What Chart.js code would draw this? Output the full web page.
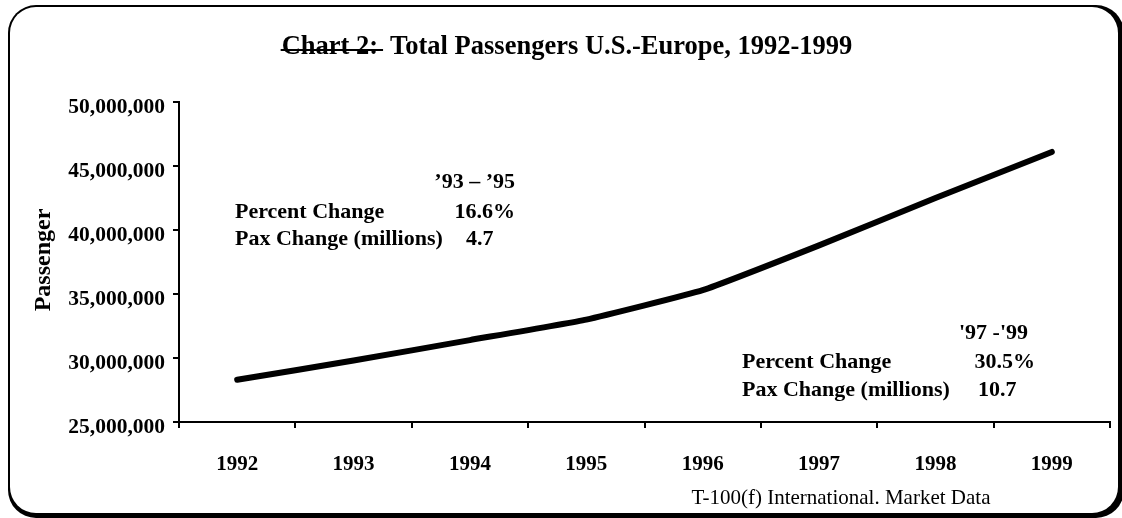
<!DOCTYPE html>
<html lang="en">
<head>
    <meta charset="UTF-8">
    <title>Total Passengers U.S.-Europe</title>
    <script src="https://cdn.jsdelivr.net/npm/chart.js"></script>
    <style>
        body { margin: 0; background: #fff; }
        #wrap { width: 1122px; height: 518px; }
    </style>
</head>
<body>
    <div id="wrap"><canvas id="paxChart" width="1122" height="518"></canvas></div>

    <script>
        // Data
        const years = ['1992', '1993', '1994', '1995', '1996', '1997', '1998', '1999'];
        const passengers = [28300000, 29800000, 31400000, 33000000, 35300000, 38800000, 42500000, 46100000];
        const yTicks = [25000000, 30000000, 35000000, 40000000, 45000000, 50000000];

        const titlePrefix = 'Chart 2:';
        const titleText = 'Total Passengers U.S.-Europe, 1992-1999';
        const yTitle = 'Passenger';
        const sourceText = 'T-100(f) International. Market Data';
        const note1 = ['\u201993 \u2013 \u201995', 'Percent Change', '16.6%', 'Pax Change (millions)', '4.7'];
        const note2 = ["'97 -'99", 'Percent Change', '30.5%', 'Pax Change (millions)', '10.7'];

        const serif = '"Liberation Serif", "Times New Roman", serif';

        function roundRect(ctx, x, y, w, h, r) {
            ctx.beginPath();
            ctx.moveTo(x + r, y);
            ctx.lineTo(x + w - r, y);
            ctx.arcTo(x + w, y, x + w, y + r, r);
            ctx.lineTo(x + w, y + h - r);
            ctx.arcTo(x + w, y + h, x + w - r, y + h, r);
            ctx.lineTo(x + r, y + h);
            ctx.arcTo(x, y + h, x, y + h - r, r);
            ctx.lineTo(x, y + r);
            ctx.arcTo(x, y, x + r, y, r);
            ctx.closePath();
        }

        // frame, title, y title, notes and source line
        const decor = {
            id: 'decor',
            beforeDraw(chart) {
                const ctx = chart.ctx;
                ctx.save();
                ctx.fillStyle = '#000';
                roundRect(ctx, 8, 5, 1116, 513, 28);
                ctx.fill();
                ctx.fillStyle = '#fff';
                roundRect(ctx, 10, 7, 1108, 506, 26);
                ctx.fill();
                ctx.restore();
            },
            afterDraw(chart) {
                const ctx = chart.ctx;
                ctx.save();
                ctx.fillStyle = '#000';
                ctx.textBaseline = 'middle';

                // title
                ctx.font = 'bold 26.5px ' + serif;
                const w1 = ctx.measureText(titlePrefix).width;
                const gap = 12;
                const w2 = ctx.measureText(titleText).width;
                let x0 = 567 - (w1 + gap + w2) / 2;
                ctx.textAlign = 'left';
                ctx.fillText(titlePrefix, x0, 47);
                ctx.fillText(titleText, x0 + w1 + gap, 47);
                ctx.fillRect(x0 - 1, 49, w1 + 6, 2);

                // y axis title
                ctx.save();
                ctx.translate(44, 260);
                ctx.rotate(-Math.PI / 2);
                ctx.textAlign = 'center';
                ctx.font = 'bold 24px ' + serif;
                ctx.fillText(yTitle, 0, 0);
                ctx.restore();

                // notes
                ctx.font = 'bold 22px ' + serif;
                ctx.textAlign = 'right';
                ctx.fillText(note1[0], 515, 182);
                ctx.fillText(note1[2], 515, 212);
                ctx.textAlign = 'left';
                ctx.fillText(note1[1], 235, 212);
                ctx.fillText(note1[3], 235, 239);
                ctx.fillText(note1[4], 466, 239);

                ctx.textAlign = 'right';
                ctx.fillText(note2[0], 1028, 333);
                ctx.fillText(note2[2], 1035, 362);
                ctx.textAlign = 'left';
                ctx.fillText(note2[1], 742, 362);
                ctx.fillText(note2[3], 742, 390);
                ctx.fillText(note2[4], 978, 390);

                // source
                ctx.font = '21px ' + serif;
                ctx.textAlign = 'center';
                ctx.fillText(sourceText, 841, 498);
                ctx.restore();
            }
        };

        const ctx = document.getElementById('paxChart').getContext('2d');
        new Chart(ctx, {
            type: 'line',
            data: {
                labels: years,
                datasets: [{
                    label: 'Passengers',
                    data: passengers,
                    borderColor: '#000',
                    borderWidth: 6,
                    borderCapStyle: 'round',
                    borderJoinStyle: 'round',
                    pointRadius: 0,
                    tension: 0.12,
                    fill: false
                }]
            },
            options: {
                responsive: false,
                animation: false,
                layout: { padding: { left: 0, top: 102, right: 12, bottom: 0 } },
                plugins: {
                    legend: { display: false },
                    tooltip: { enabled: false }
                },
                scales: {
                    x: {
                        offset: true,
                        afterFit(scale) { scale.height = 96; },
                        grid: {
                            offset: true,
                            drawOnChartArea: false,
                            drawTicks: true,
                            tickLength: 6,
                            color: '#000',
                            lineWidth: 2
                        },
                        border: { display: true, color: '#000', width: 2 },
                        ticks: {
                            color: '#000',
                            padding: 24,
                            maxRotation: 0,
                            font: { family: serif, size: 21, weight: 'bold' }
                        }
                    },
                    y: {
                        min: 25000000,
                        max: 50000000,
                        afterFit(scale) { scale.width = 179; },
                        afterBuildTicks(scale) { scale.ticks = yTicks.map(v => ({ value: v })); },
                        grid: {
                            drawOnChartArea: false,
                            drawTicks: true,
                            tickLength: 6,
                            color: '#000',
                            lineWidth: 2
                        },
                        border: { display: true, color: '#000', width: 2 },
                        ticks: {
                            color: '#000',
                            padding: 8,
                            labelOffset: 5,
                            font: { family: serif, size: 21.5, weight: 'bold' },
                            callback: v => v.toLocaleString('en-US')
                        }
                    }
                }
            },
            plugins: [decor]
        });
    </script>
</body>
</html>
